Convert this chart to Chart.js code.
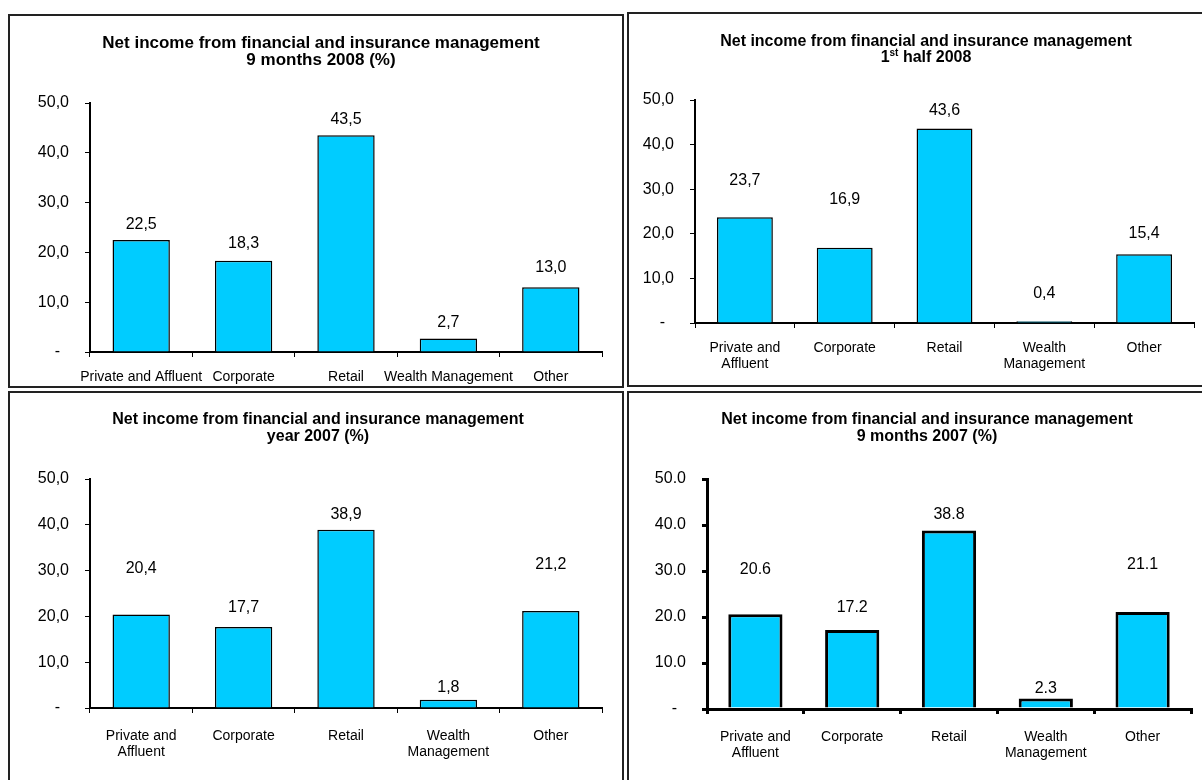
<!DOCTYPE html>
<html>
<head>
<meta charset="utf-8">
<title>Net income from financial and insurance management</title>
<script src="https://cdn.jsdelivr.net/npm/chart.js@4/dist/chart.umd.min.js"></script>
<style>
  html, body { margin: 0; padding: 0; background: #fff; overflow: hidden; }
  body { width: 1202px; height: 780px; position: relative; }
  .panel { position: absolute; border: 2px solid #222; box-sizing: border-box; background: #fff; }
  .panel canvas { position: absolute; left: 0; top: 0; }
</style>
</head>
<body>
<div class="panel" id="p1" style="left:8px;top:14px;width:616px;height:374px"><canvas id="c1"></canvas></div>
<div class="panel" id="p2" style="left:627px;top:12px;width:590px;height:375px"><canvas id="c2"></canvas></div>
<div class="panel" id="p3" style="left:8px;top:391px;width:616px;height:420px"><canvas id="c3"></canvas></div>
<div class="panel" id="p4" style="left:627px;top:391px;width:590px;height:420px"><canvas id="c4"></canvas></div>
<script>
// Business lines
const categoriesOneLine = ['Private and Affluent', 'Corporate', 'Retail', 'Wealth Management', 'Other'];
const categoriesTwoLine = [['Private and', 'Affluent'], ['Corporate'], ['Retail'], ['Wealth', 'Management'], ['Other']];

// Share of net income (%) per period
const share9m2008 = [22.5, 18.3, 43.5, 2.7, 13.0];
const shareH1_2008 = [23.7, 16.9, 43.6, 0.4, 15.4];
const shareYear2007 = [20.4, 17.7, 38.9, 1.8, 21.2];
const share9m2007 = [20.6, 17.2, 38.8, 2.3, 21.1];

// Value axis
const yMin = 0;
const yMax = 50;
const yStep = 10;

const FONT = '"Liberation Sans", Arial, Helvetica, sans-serif';
const BAR_FILL = '#00CCFF';

// Two-line panel heading, with optional superscript segments
const panelTitlePlugin = {
  id: 'panelTitle',
  afterDraw(chart, args, o) {
    if (!o || !o.lines) return;
    const ctx = chart.ctx;
    ctx.save();
    ctx.fillStyle = '#000';
    ctx.textBaseline = 'middle';
    ctx.textAlign = 'left';
    o.lines.forEach((segs, i) => {
      const parts = segs.map(s => ({
        t: s.t,
        sup: !!s.sup,
        font: 'bold ' + (s.sup ? Math.round(o.size * 0.62) : o.size) + 'px ' + FONT
      }));
      let total = 0;
      parts.forEach(p => { ctx.font = p.font; p.w = ctx.measureText(p.t).width; total += p.w; });
      let x = o.x - total / 2;
      const y = o.y + i * o.lineGap;
      parts.forEach(p => {
        ctx.font = p.font;
        ctx.fillText(p.t, x, p.sup ? y - o.size * 0.3 : y);
        x += p.w;
      });
    });
    ctx.restore();
  }
};

// Value printed above each bar
const barValuePlugin = {
  id: 'barValue',
  afterDatasetsDraw(chart, args, o) {
    const ctx = chart.ctx;
    const meta = chart.getDatasetMeta(0);
    const values = chart.data.datasets[0].data;
    ctx.save();
    ctx.fillStyle = '#000';
    ctx.font = o.size + 'px ' + FONT;
    ctx.textAlign = 'center';
    ctx.textBaseline = 'middle';
    meta.data.forEach((bar, i) => {
      const txt = values[i].toFixed(1).replace('.', o.sep);
      ctx.fillText(txt, bar.x, bar.y - o.lift[i]);
    });
    ctx.restore();
  }
};

function makePanel(canvasId, w, h, cfg) {
  const canvas = document.getElementById(canvasId);
  canvas.width = w; canvas.height = h;
  canvas.style.width = w + 'px'; canvas.style.height = h + 'px';
  const fmt = v => v === 0 ? '-  ' : v.toFixed(1).replace('.', cfg.sep);
  return new Chart(canvas, {
    type: 'bar',
    data: {
      labels: cfg.labels,
      datasets: [{
        data: cfg.values,
        backgroundColor: BAR_FILL,
        borderColor: '#000',
        borderWidth: cfg.barBorder,
        borderSkipped: 'bottom',
        barPercentage: 0.56,
        categoryPercentage: 1.0
      }]
    },
    options: {
      responsive: false,
      animation: false,
      devicePixelRatio: 1,
      layout: { padding: cfg.padding },
      plugins: {
        legend: { display: false },
        tooltip: { enabled: false },
        title: { display: false },
        panelTitle: cfg.title,
        barValue: { size: 16, sep: cfg.sep, lift: cfg.lift }
      },
      scales: {
        x: {
          offset: true,
          grid: { offset: true, drawOnChartArea: false, drawTicks: true, tickLength: 5, color: '#000', lineWidth: cfg.axisWidth === 3 ? 3 : 1 },
          border: { display: true, color: '#000', width: cfg.axisWidth },
          ticks: {
            color: '#000', font: { family: FONT, size: 14, lineHeight: 1.15 },
            padding: cfg.xPad, autoSkip: false, maxRotation: 0, minRotation: 0
          },
          afterFit: s => { s.height = cfg.xHeight; }
        },
        y: {
          min: yMin, max: yMax,
          grid: { drawOnChartArea: false, drawTicks: true, tickLength: 5, color: '#000', lineWidth: cfg.axisWidth === 3 ? 3 : 1 },
          border: { display: true, color: '#000', width: cfg.axisWidth },
          ticks: {
            stepSize: yStep, color: '#000', font: { family: FONT, size: 16 },
            padding: 16, callback: v => fmt(v)
          },
          afterFit: s => { s.width = 60; }
        }
      }
    },
    plugins: [panelTitlePlugin, barValuePlugin]
  });
}

const heading = [{ t: 'Net income from financial and insurance management' }];

// 9 months 2008
makePanel('c1', 612, 370, {
  labels: categoriesOneLine, values: share9m2008, sep: ',',
  padding: { left: 20, top: 87, right: 20, bottom: 0 }, xHeight: 34, xPad: 12,
  barBorder: 1.5, axisWidth: 2,
  lift: [15.5, 17.5, 15.5, 15.5, 20],
  title: { x: 311, y: 27, lineGap: 17, size: 17, lines: [heading, [{ t: '9 months 2008 (%)' }]] }
});

// 1st half 2008
makePanel('c2', 586, 371, {
  labels: categoriesTwoLine, values: shareH1_2008, sep: ',',
  padding: { left: 6, top: 86, right: 21, bottom: 0 }, xHeight: 62, xPad: 12,
  barBorder: 1.5, axisWidth: 2,
  lift: [37, 48, 18, 28, 21],
  title: { x: 297, y: 28, lineGap: 16, size: 16, lines: [heading, [{ t: '1' }, { t: 'st', sup: true }, { t: ' half 2008' }]] }
});

// Year 2007
makePanel('c3', 612, 416, {
  labels: categoriesTwoLine, values: shareYear2007, sep: ',',
  padding: { left: 20, top: 86, right: 20, bottom: 0 }, xHeight: 101, xPad: 15,
  barBorder: 1.5, axisWidth: 2,
  lift: [46, 19, 15, 12, 46],
  title: { x: 308, y: 27, lineGap: 17, size: 16, lines: [heading, [{ t: 'year 2007 (%)' }]] }
});

// 9 months 2007
makePanel('c4', 586, 416, {
  labels: categoriesTwoLine, values: share9m2007, sep: '.',
  padding: { left: 18, top: 86, right: 24, bottom: 0 }, xHeight: 100, xPad: 15,
  barBorder: 3, axisWidth: 3,
  lift: [45, 22, 15.5, 10, 47],
  title: { x: 298, y: 27, lineGap: 17, size: 16, lines: [heading, [{ t: '9 months 2007 (%)' }]] }
});
</script>
</body>
</html>
